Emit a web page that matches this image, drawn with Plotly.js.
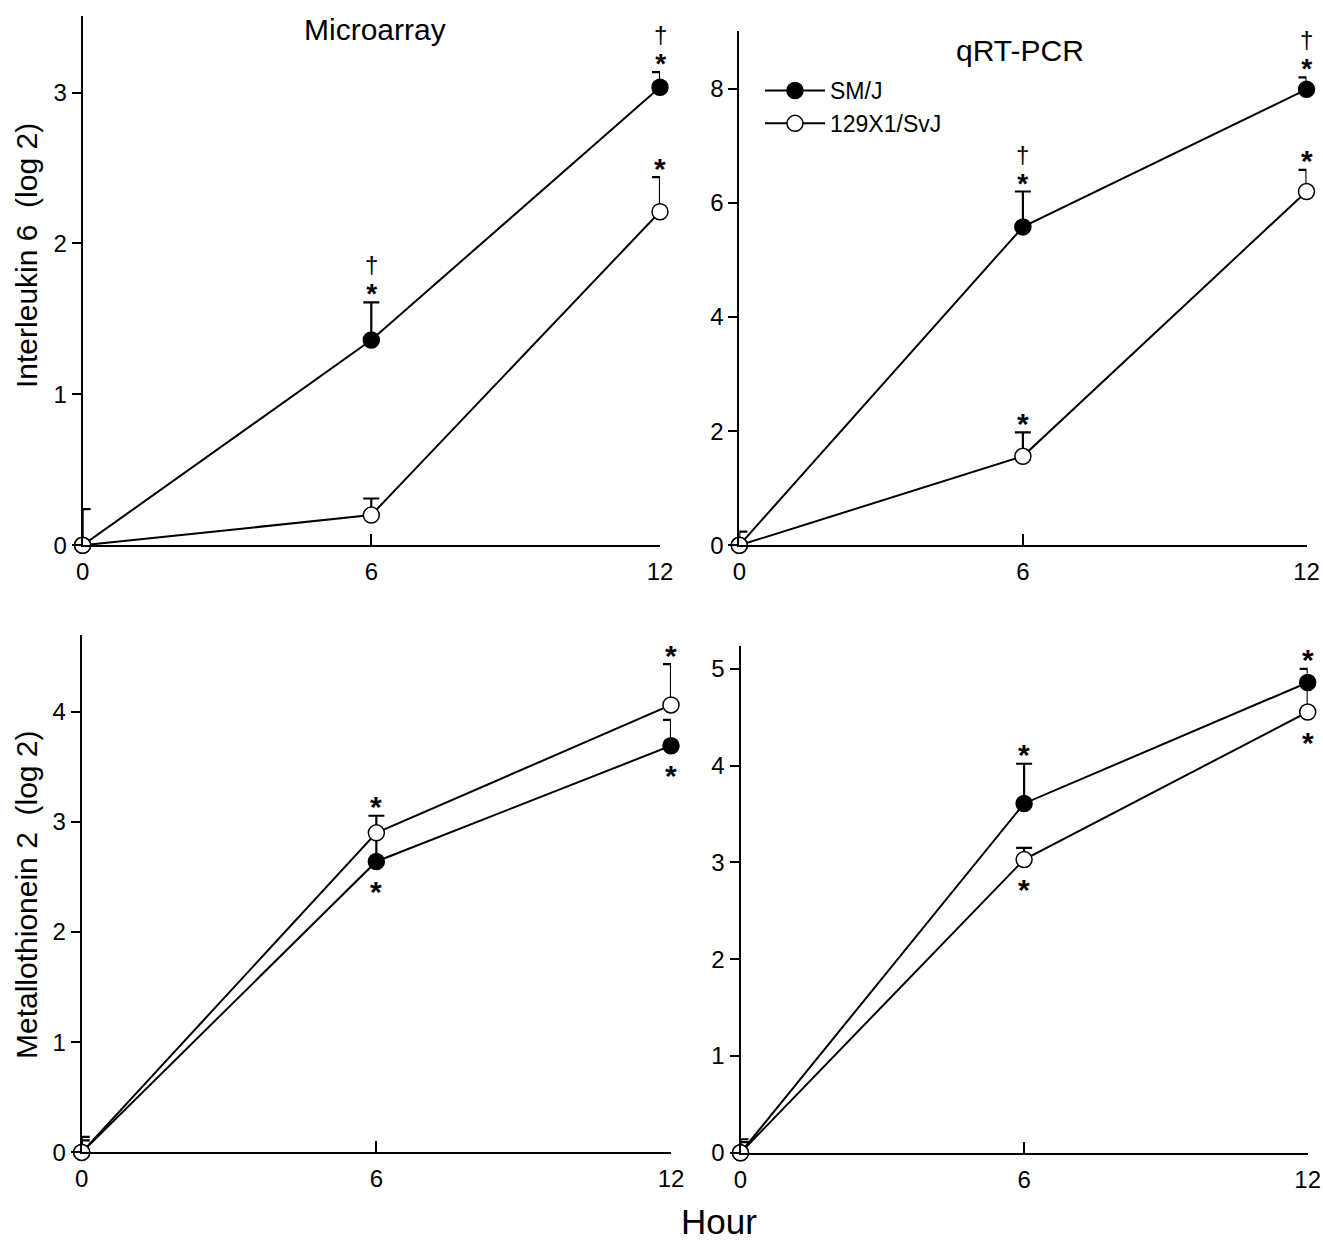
<!DOCTYPE html>
<html>
<head>
<meta charset="utf-8">
<script src="https://cdn.plot.ly/plotly-3.0.1.min.js"></script>
<style>html,body{margin:0;padding:0;background:#fff;}#chart{width:1323px;height:1243px;}</style>
</head>
<body>
<div id="chart"></div>
<script>
// ---- data ----
const hours = [0, 6, 12];
const xTicks = [0, 6, 12];
const seriesNames = ["SM/J", "129X1/SvJ"];
const panelTitles = ["Microarray", "qRT-PCR"];
const yTitles = ["Interleukin 6  (log 2)", "Metallothionein 2  (log 2)"];
const xTitle = "Hour";

// Interleukin 6, microarray
const il6MicroSMJ = [0, 1.36, 3.035];
const il6MicroSMJErr = [0.24, 0.25, 0.10];
const il6Micro129 = [0, 0.20, 2.21];
const il6Micro129Err = [0, 0.11, 0.23];
const il6MicroSMJSig = ["", "*†", "*†"];   // above
const il6Micro129Sig = ["", "", "*"];      // above

// Interleukin 6, qRT-PCR
const il6PcrSMJ = [0, 5.58, 7.99];
const il6PcrSMJErr = [0.24, 0.62, 0.21];
const il6Pcr129 = [0, 1.56, 6.20];
const il6Pcr129Err = [0, 0.42, 0.38];
const il6PcrSMJSig = ["", "*†", "*†"];     // above
const il6Pcr129Sig = ["", "*", "*"];       // above

// Metallothionein 2, microarray
const mt2MicroSMJ = [0, 2.64, 3.69];
const mt2MicroSMJErr = [0.14, 0.26, 0.235];
const mt2Micro129 = [0, 2.90, 4.06];
const mt2Micro129Err = [0.11, 0.155, 0.37];
const mt2MicroSMJSig = ["", "*", "*"];     // below
const mt2Micro129Sig = ["", "*", "*"];     // above

// Metallothionein 2, qRT-PCR
const mt2PcrSMJ = [0, 3.61, 4.86];
const mt2PcrSMJErr = [0.14, 0.41, 0.14];
const mt2Pcr129 = [0, 3.03, 4.555];
const mt2Pcr129Err = [0.11, 0.12, 0.30];
const mt2PcrSMJSig = ["", "*", "*"];       // above
const mt2Pcr129Sig = ["", "*", "*"];       // below

// ---- layout helpers ----
const W = 1323, H = 1243;
const FONT = "Liberation Sans, Arial, Helvetica, sans-serif";
const px = v => v / W;
const py = v => 1 - v / H;

const panels = [
  {xa: "x",  ya: "y",  smj: il6MicroSMJ, smjErr: il6MicroSMJErr, s129: il6Micro129, s129Err: il6Micro129Err,
   smjSig: il6MicroSMJSig, smjSide: "above", s129Sig: il6Micro129Sig, s129Side: "above",
   xdom: [px(82.6), px(660)], ydom: [py(545.3), py(16)], ymax: 3.507, dtick: 1, legend: false},
  {xa: "x2", ya: "y2", smj: il6PcrSMJ, smjErr: il6PcrSMJErr, s129: il6Pcr129, s129Err: il6Pcr129Err,
   smjSig: il6PcrSMJSig, smjSide: "above", s129Sig: il6Pcr129Sig, s129Side: "above",
   xdom: [px(739.3), px(1306.5)], ydom: [py(545.3), py(31.4)], ymax: 9.006, dtick: 2, legend: true},
  {xa: "x3", ya: "y3", smj: mt2MicroSMJ, smjErr: mt2MicroSMJErr, s129: mt2Micro129, s129Err: mt2Micro129Err,
   smjSig: mt2MicroSMJSig, smjSide: "below", s129Sig: mt2Micro129Sig, s129Side: "above",
   xdom: [px(81.7), px(671)], ydom: [py(1152.4), py(634.9)], ymax: 4.696, dtick: 1, legend: false},
  {xa: "x4", ya: "y4", smj: mt2PcrSMJ, smjErr: mt2PcrSMJErr, s129: mt2Pcr129, s129Err: mt2Pcr129Err,
   smjSig: mt2PcrSMJSig, smjSide: "above", s129Sig: mt2Pcr129Sig, s129Side: "below",
   xdom: [px(740.5), px(1307.7)], ydom: [py(1152.8), py(645.9)], ymax: 5.238, dtick: 1, legend: false}
];

const traces = [];
const annotations = [];
const layout = {
  width: W, height: H,
  margin: {l: 0, r: 0, t: 0, b: 0},
  paper_bgcolor: "#fff", plot_bgcolor: "rgba(0,0,0,0)",
  font: {family: FONT, color: "#000", size: 24},
  showlegend: true,
  legend: {x: px(760), y: py(69), xanchor: "left", yanchor: "top",
           font: {family: FONT, size: 23, color: "#000"}, bgcolor: "rgba(0,0,0,0)",
           borderwidth: 0, itemwidth: 60, traceorder: "normal"},
  annotations: annotations
};

function errTrace(p, y, err) {
  return {x: hours, y: y, xaxis: p.xa, yaxis: p.ya, mode: "lines", line: {width: 0, color: "#000"},
          showlegend: false, hoverinfo: "skip", cliponaxis: false,
          error_y: {type: "data", symmetric: false, array: err, arrayminus: err.map(() => 0),
                    color: "#000", thickness: 2.2, width: 8}};
}
function lineTrace(p, y, name, fill, show) {
  return {x: hours, y: y, xaxis: p.xa, yaxis: p.ya, mode: "lines+markers", name: name,
          showlegend: show, cliponaxis: false,
          line: {color: "#000", width: 2},
          marker: {symbol: "circle", size: 16, color: fill, line: {color: "#000", width: 1.5}}};
}
const STAR = "<b>*</b>";
const DAGGER = "<span style='font-size:24px'>†</span>";
function sigAnnots(p, y, err, marks, side) {
  hours.forEach((h, i) => {
    const m = marks[i];
    if (!m) return;
    const base = {xref: p.xa, yref: p.ya, x: h, showarrow: false, xanchor: "center", yanchor: "middle",
                  font: {family: FONT, size: 30, color: "#000"}};
    if (side === "above") {
      const top = y[i] + err[i];
      if (m.includes("†")) {
        // dagger stacked over asterisk in one label
        annotations.push(Object.assign({}, base, {y: top, yanchor: "bottom", yshift: -9,
          text: DAGGER + "<br><span style='font-size:28px'>" + STAR + "</span>",
          font: {family: FONT, size: 23, color: "#000"}}));
      } else {
        annotations.push(Object.assign({}, base, {y: top, text: STAR, yshift: 9}));
      }
    } else {
      annotations.push(Object.assign({}, base, {y: y[i], text: STAR, yshift: -30}));
    }
  });
}

panels.forEach((p, k) => {
  const n = k === 0 ? "" : String(k + 1);
  traces.push(errTrace(p, p.smj, p.smjErr));
  traces.push(errTrace(p, p.s129, p.s129Err));
  traces.push(lineTrace(p, p.smj, seriesNames[0], "#000", p.legend));
  traces.push(lineTrace(p, p.s129, seriesNames[1], "#fff", p.legend));
  sigAnnots(p, p.smj, p.smjErr, p.smjSig, p.smjSide);
  sigAnnots(p, p.s129, p.s129Err, p.s129Sig, p.s129Side);

  layout["xaxis" + n] = {domain: p.xdom, anchor: "y" + n, range: [0, 12], tickvals: xTicks,
    showline: true, linecolor: "#000", linewidth: 2, ticks: "inside", ticklen: 11, tickwidth: 2,
    tickcolor: "#000", showgrid: false, zeroline: false, fixedrange: true,
    tickfont: {family: FONT, size: 24, color: "#000"}, ticklabelstandoff: 4};
  layout["yaxis" + n] = {domain: p.ydom, anchor: "x" + n, range: [0, p.ymax], dtick: p.dtick, tick0: 0,
    showline: true, linecolor: "#000", linewidth: 2, ticks: "outside", ticklen: 9, tickwidth: 2,
    tickcolor: "#000", showgrid: false, zeroline: false, fixedrange: true,
    tickfont: {family: FONT, size: 24, color: "#000"}};
});

// titles
annotations.push({xref: "paper", yref: "paper", x: px(375), y: py(29), text: panelTitles[0], showarrow: false,
  xanchor: "center", yanchor: "middle", font: {family: FONT, size: 30, color: "#000"}});
annotations.push({xref: "paper", yref: "paper", x: px(1020), y: py(51), text: panelTitles[1], showarrow: false,
  xanchor: "center", yanchor: "middle", font: {family: FONT, size: 30, color: "#000"}});
annotations.push({xref: "paper", yref: "paper", x: px(27), y: py(256), text: yTitles[0], showarrow: false,
  textangle: -90, xanchor: "center", yanchor: "middle", font: {family: FONT, size: 30, color: "#000"}});
annotations.push({xref: "paper", yref: "paper", x: px(26), y: py(895), text: yTitles[1], showarrow: false,
  textangle: -90, xanchor: "center", yanchor: "middle", font: {family: FONT, size: 30, color: "#000"}});
annotations.push({xref: "paper", yref: "paper", x: px(719), y: 0, text: xTitle, showarrow: false,
  xanchor: "center", yanchor: "bottom", yshift: 0, font: {family: FONT, size: 35, color: "#000"}});

Plotly.newPlot("chart", traces, layout, {staticPlot: true, displayModeBar: false});
</script>
</body>
</html>
